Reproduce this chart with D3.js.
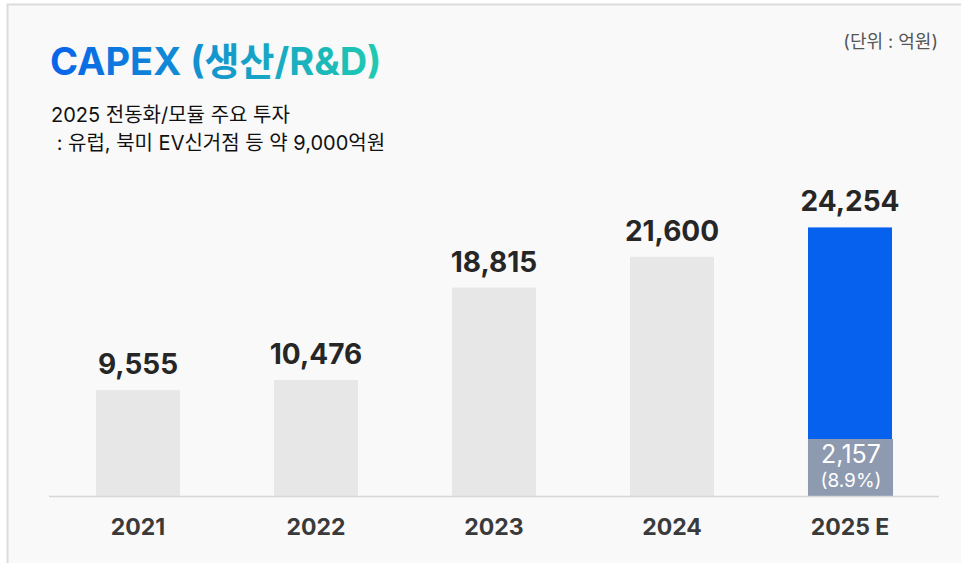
<!DOCTYPE html>
<head>
<meta charset="utf-8">
<style>
body { margin: 0; background: #fff; }
svg { display: block; font-family: Inter, "Noto Sans CJK KR", "Noto Sans", sans-serif; }
.val { font-size: 28px; font-weight: 700; fill: #262626; text-anchor: middle; }
.year { font-size: 23px; font-weight: 700; fill: #3a3a3a; text-anchor: middle; }
.sub { font-size: 20px; fill: #111; white-space: pre; }
.unit { font-size: 18px; fill: #555; text-anchor: end; }
</style>
</head>
<body>
<svg width="961" height="563"></svg>
<script src="https://cdn.jsdelivr.net/npm/d3@7"></script>
<script>
var years = ["2021", "2022", "2023", "2024", "2025 E"];
var capex = [9555, 10476, 18815, 21600, 24254];
var rdPart = 2157;      // 2025 E 중 R&D 부분
var rdShare = "(8.9%)";

var svg = d3.select("svg"),
    width = +svg.attr("width"),
    height = +svg.attr("height");

var defs = svg.append("defs");
var grad = defs.append("linearGradient").attr("id", "titleGrad")
    .attr("x1", "0%").attr("x2", "100%");
grad.append("stop").attr("offset", "0%").attr("stop-color", "#0863ea");
grad.append("stop").attr("offset", "100%").attr("stop-color", "#1fcbb0");

// panel
svg.append("rect")
    .attr("x", 7.5).attr("y", 4.5)
    .attr("width", width).attr("height", height)
    .attr("fill", "#f9f9f9")
    .attr("stroke", "#dcdcdc").attr("stroke-width", 2);

var x = d3.scaleBand()
    .domain(years)
    .range([49, 939])
    .paddingInner(0.528)
    .paddingOuter(0.264);

var y = d3.scaleLinear()
    .domain([0, 27000])
    .range([496, 197]);

// bars
svg.selectAll(".bar")
    .data(years)
    .enter().append("rect")
    .attr("class", "bar")
    .attr("x", function(d) { return x(d); })
    .attr("y", function(d, i) { return y(capex[i]); })
    .attr("width", x.bandwidth())
    .attr("height", function(d, i) { return y(0) - y(capex[i]); })
    .attr("fill", function(d, i) { return i === years.length - 1 ? "#0662ee" : "#e7e7e7"; });

// R&D inset on last bar (drawn taller than scale so the label fits)
var last = years[years.length - 1],
    insetH = Math.max(y(0) - y(rdPart), 57);
svg.append("rect")
    .attr("x", x(last))
    .attr("y", y(0) - insetH)
    .attr("width", x.bandwidth() + 1)
    .attr("height", insetH)
    .attr("fill", "#8e9ab0");
svg.append("text")
    .attr("x", x(last) + x.bandwidth() / 2 + 1)
    .attr("y", y(0) - 33)
    .attr("text-anchor", "middle")
    .attr("fill", "#fff")
    .style("font-size", "25px")
    .text(d3.format(",")(rdPart));
svg.append("text")
    .attr("x", x(last) + x.bandwidth() / 2 + 1)
    .attr("y", y(0) - 9)
    .attr("text-anchor", "middle")
    .attr("fill", "#fff")
    .style("font-size", "19px")
    .text(rdShare);

// axis line
svg.append("line")
    .attr("x1", x.range()[0]).attr("x2", x.range()[1])
    .attr("y1", y(0) + 0.5).attr("y2", y(0) + 0.5)
    .attr("stroke", "#d6d6d6").attr("stroke-width", 1.5);

// value labels
svg.selectAll(".val")
    .data(years)
    .enter().append("text")
    .attr("class", "val")
    .attr("x", function(d) { return x(d) + x.bandwidth() / 2; })
    .attr("y", function(d, i) { return y(capex[i]) - 16; })
    .text(function(d, i) { return d3.format(",")(capex[i]); });

// year labels
svg.selectAll(".year")
    .data(years)
    .enter().append("text")
    .attr("class", "year")
    .attr("x", function(d) { return x(d) + x.bandwidth() / 2; })
    .attr("y", 535)
    .text(function(d) { return d; });

// title & notes
svg.append("text")
    .attr("x", 50).attr("y", 75)
    .attr("fill", "url(#titleGrad)")
    .style("font-size", "38px").style("font-weight", 700)
    .text("CAPEX (생산/R&D)");
svg.append("text").attr("class", "sub")
    .attr("x", 51).attr("y", 122)
    .text("2025 전동화/모듈 주요 투자");
svg.append("text").attr("class", "sub")
    .attr("x", 51).attr("y", 150)
    .text(" : 유럽, 북미 EV신거점 등 약 9,000억원");
svg.append("text").attr("class", "unit")
    .attr("x", 938).attr("y", 48)
    .text("(단위 : 억원)");
</script>
</body>
